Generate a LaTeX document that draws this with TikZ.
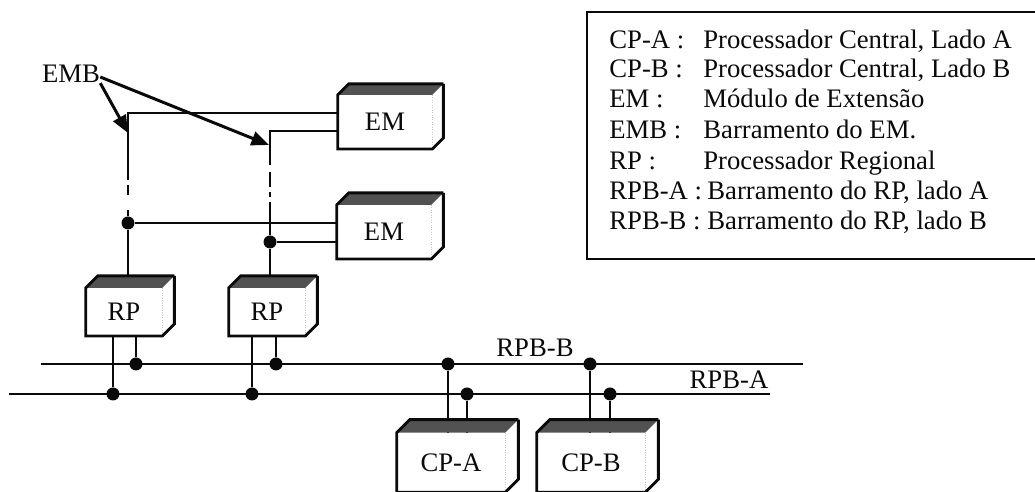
\documentclass[tikz,border=0pt]{standalone}
\usepackage{fontspec}
\setmainfont{Liberation Serif}
\usetikzlibrary{arrows.meta, positioning, calc}
\definecolor{tinta}{HTML}{0A0A0A}
\tikzset{
  every picture/.style={font=\fontsize{15.2}{18}\selectfont, >=Triangle},
  emcaixa/.style={inner sep=0pt, text=tinta, minimum width=1.88cm, minimum height=1.07cm},
  rpcaixa/.style={inner sep=0pt, text=tinta, minimum width=1.52cm, minimum height=0.95cm},
  cpcaixa/.style={inner sep=0pt, text=tinta, minimum width=2.16cm, minimum height=1.18cm},
  borda/.style={draw=tinta, line width=1.6pt, line join=miter},
  topo/.style={fill=black!68},
  aresta/.style={draw=black!22, line width=0.4pt, densely dotted},
  barra/.style={draw=tinta, line width=1.3pt},
  tracejado/.style={draw=tinta, line width=1.3pt, dash pattern=#1},
  ponto/.style={circle, fill=tinta, inner sep=0pt, minimum size=0.26cm},
  seta/.style={-{Triangle[length=10pt, width=8pt]}, draw=tinta, line width=1.7pt},
  rotulo/.style={inner sep=0pt, text=tinta},
  legenda/.style={inner sep=0pt, text=tinta, anchor=base west},
}
\begin{document}
\begin{tikzpicture}[x=0.02cm, y=-0.02cm]
  \useasboundingbox (0,0) rectangle (1035,492);
  \node[emcaixa] (EM1) at (385,122) {EM};
  \node[emcaixa] (EM2) at (384,232) {EM};
  \node[rpcaixa] (RP1) at (124,312) {RP};
  \node[rpcaixa] (RP2) at (267,312) {RP};
  \node[cpcaixa] (CPA) at (451,462.5) {CP-A};
  \node[cpcaixa] (CPB) at (591,462.5) {CP-B};
  \node[rotulo] (EMB) at (71,74) {EMB};
  \node[rotulo, anchor=base] (labelB) at (535,357) {RPB-B};
  \node[rotulo, anchor=base] (labelA) at (729,389) {RPB-A};
  \coordinate (inicioB) at (41,364);
  \coordinate (fimB) at (803,364);
  \coordinate (inicioA) at (9,394);
  \coordinate (fimA) at (770,394);
  \draw[barra] (inicioB) -- (fimB);
  \draw[barra] (inicioA) -- (fimA);
  \foreach \n/\x in {a1/113, a2/252, a3/467, a4/610}
    \node[ponto] (\n) at (\x,394) {};
  \foreach \n/\x in {b1/136, b2/276, b3/448, b4/590}
    \node[ponto] (\n) at (\x,364) {};
  \draw[barra] (a1) -- (a1 |- RP1.south);
  \draw[barra] (b1) -- (b1 |- RP1.south);
  \draw[barra] (a2) -- (a2 |- RP2.south);
  \draw[barra] (b2) -- (b2 |- RP2.south);
  \draw[barra] (b3) -- (b3 |- CPA.north);
  \draw[barra] (a3) -- (a3 |- CPA.north);
  \draw[barra] (b4) -- (b4 |- CPB.north);
  \draw[barra] (a4) -- (a4 |- CPB.north);
  \node[ponto] (d1) at (128,223) {};
  \node[ponto] (d2) at (270,242) {};
  \coordinate (canto1) at (128,113);
  \coordinate (canto2) at (270,131);
  \coordinate (q1) at (128,180);
  \coordinate (q2) at (128,210);
  \coordinate (q3) at (270,165);
  \coordinate (q4) at (270,202);
  \draw[barra] (canto1 -| EM1.west) -- (canto1) -- (q1);
  \draw[tracejado={on 0pt off 3pt on 5.7pt off 10pt}] (q1) -- (q2);
  \draw[barra] (q2) -- (d1) -- (d1 |- RP1.north);
  \draw[barra] (canto2 -| EM1.west) -- (canto2) -- (q3);
  \draw[tracejado={on 0pt off 4pt on 8.5pt off 3pt on 3pt off 3pt}] (q3) -- (q4);
  \draw[barra] (q4) -- (d2) -- (d2 |- RP2.north);
  \draw[barra] (d1) -- (d1 -| EM2.west);
  \draw[barra] (d2) -- (d2 -| EM2.west);
  \foreach \n/\d in {EM1/11, EM2/12, RP1/12, RP2/12, CPA/13, CPB/13} {
    \fill[topo] (\n.north west) -- ++(\d,-\d) -- ($(\n.north east)+(\d,-\d)$) -- (\n.north east) -- cycle;
    \draw[aresta] (\n.north east) -- (\n.south east);
    \draw[borda] ($(\n.north east)+(\d,-\d)$) -- ($(\n.south east)+(\d,-\d)$) -- (\n.south east)
      -- (\n.south west) -- (\n.north west) -- ++(\d,-\d) -- ($(\n.north east)+(\d,-\d)$);
  }
  \coordinate (alvo1) at (128,133);
  \coordinate (alvo2) at (269,145);
  \draw[seta] (EMB.south east) -- (alvo1);
  \draw[seta] (EMB.east) ++(0,3) -- (alvo2);
  \draw[barra] (1035,12) -- (587,12) -- (587,259) -- (1035,259);
  \foreach \i/\y/\xt/\ch/\tx in {
    1/49/703/CP-A :/{Processador Central, Lado A},
    2/78/703/CP-B :/{Processador Central, Lado B},
    3/108/703/EM :/{Módulo de Extensão},
    4/139/703/EMB :/{Barramento do EM.},
    5/170/703/RP :/{Processador Regional},
    6/200/707/RPB-A :/{Barramento do RP, lado A},
    7/230/707/RPB-B :/{Barramento do RP, lado B}} {
    \node[legenda] (chave\i) at (609,\y) {\ch};
    \node[legenda] (texto\i) at (\xt,\y) {\tx};
  }
\end{tikzpicture}
\end{document}
